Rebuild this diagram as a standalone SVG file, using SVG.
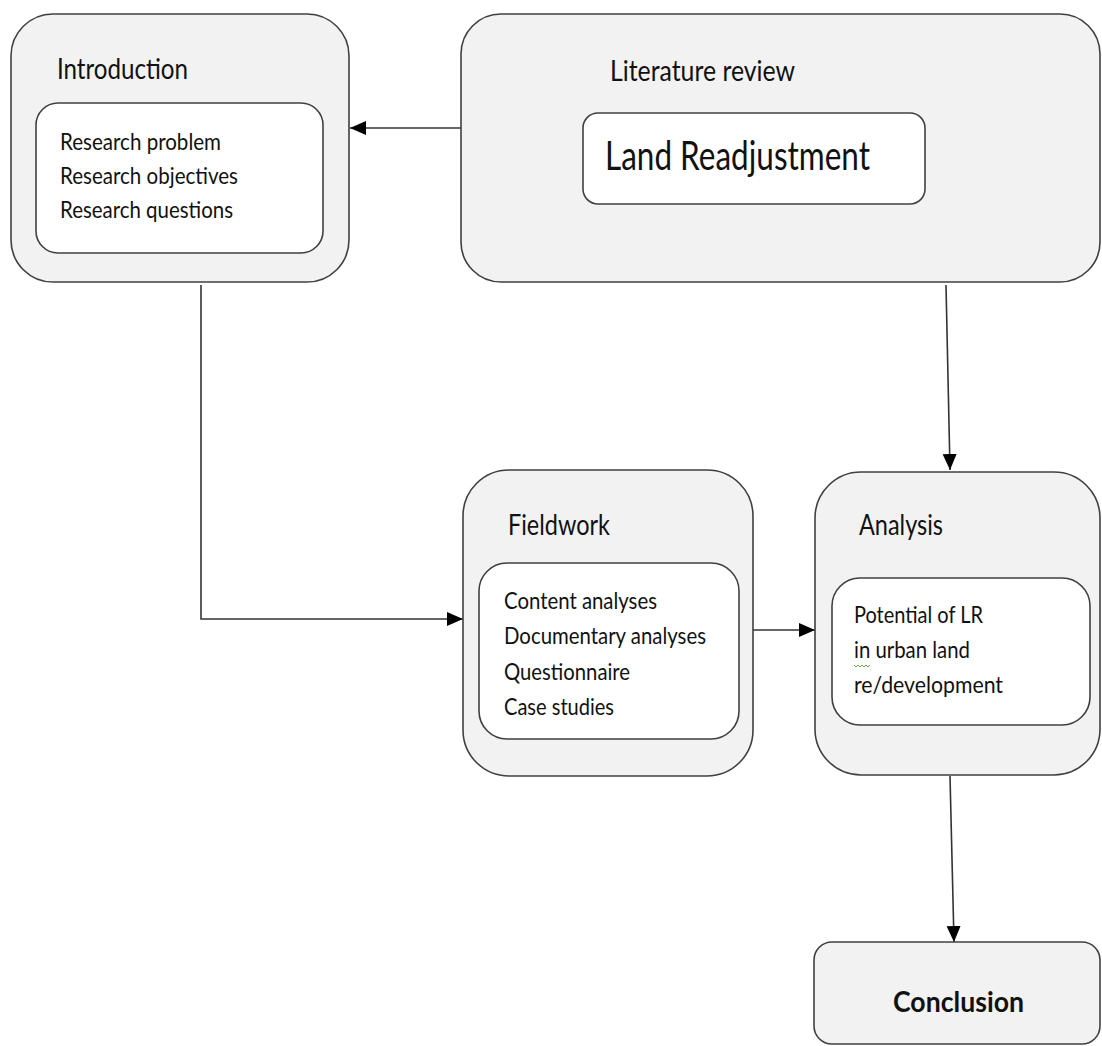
<svg xmlns="http://www.w3.org/2000/svg" width="1102" height="1046" viewBox="0 0 1102 1046">
<style>
.outer{fill:#f2f2f2;stroke:#404040;stroke-width:1.6}
.inner{fill:#ffffff;stroke:#404040;stroke-width:1.6}
text{font-family:Lato,"Liberation Sans",Arial,sans-serif;fill:#111}
.t{font-size:28px}
.s{font-size:23px}
.big{font-size:40px}
.b{font-size:28px;font-weight:bold}
.c{fill:none;stroke:#333;stroke-width:1.6}
</style>
<defs>
<marker id="ah" markerUnits="userSpaceOnUse" markerWidth="17" markerHeight="15" refX="16" refY="7" orient="auto">
<path d="M0,0 L16,7 L0,14 z" fill="#000"/>
</marker>
</defs>
<rect width="1102" height="1046" fill="#fff"/>
<g id="connectors">
<line class="c" x1="461" y1="128" x2="350" y2="128" marker-end="url(#ah)"/>
<polyline class="c" points="201,285 201,619 463,619" marker-end="url(#ah)"/>
<line class="c" x1="753" y1="630" x2="815" y2="630" marker-end="url(#ah)"/>
<line class="c" x1="946" y1="285" x2="950" y2="470" marker-end="url(#ah)"/>
<line class="c" x1="950" y1="776" x2="954" y2="942" marker-end="url(#ah)"/>
</g>
<g id="introduction">
<rect class="outer" x="11" y="14" width="338" height="268" rx="42"/>
<rect class="inner" x="36" y="103" width="287" height="150" rx="22"/>
<text class="t" x="57" y="79" textLength="131" lengthAdjust="spacingAndGlyphs">Introduction</text>
<text class="s" x="60" y="150" textLength="161" lengthAdjust="spacingAndGlyphs">Research problem</text>
<text class="s" x="60" y="184" textLength="178" lengthAdjust="spacingAndGlyphs">Research objectives</text>
<text class="s" x="60" y="218" textLength="173" lengthAdjust="spacingAndGlyphs">Research questions</text>
</g>
<g id="literature-review">
<rect class="outer" x="461" y="14" width="639" height="268" rx="40"/>
<rect class="inner" x="583" y="113" width="342" height="91" rx="15"/>
<text class="t" x="610" y="81" textLength="185" lengthAdjust="spacingAndGlyphs">Literature review</text>
<text class="big" x="605" y="170" textLength="265" lengthAdjust="spacingAndGlyphs">Land Readjustment</text>
</g>
<g id="fieldwork">
<rect class="outer" x="463" y="470" width="290" height="306" rx="46"/>
<rect class="inner" x="479" y="563" width="260" height="176" rx="28"/>
<text class="t" x="508" y="535" textLength="102" lengthAdjust="spacingAndGlyphs">Fieldwork</text>
<text class="s" x="504" y="609" textLength="153" lengthAdjust="spacingAndGlyphs">Content analyses</text>
<text class="s" x="504" y="644" textLength="202" lengthAdjust="spacingAndGlyphs">Documentary analyses</text>
<text class="s" x="504" y="680" textLength="126" lengthAdjust="spacingAndGlyphs">Questionnaire</text>
<text class="s" x="504" y="715" textLength="110" lengthAdjust="spacingAndGlyphs">Case studies</text>
</g>
<g id="analysis">
<rect class="outer" x="815" y="472" width="285" height="303" rx="46"/>
<rect class="inner" x="832" y="578" width="258" height="147" rx="28"/>
<text class="t" x="859" y="535" textLength="84" lengthAdjust="spacingAndGlyphs">Analysis</text>
<text class="s" x="854" y="623" textLength="129" lengthAdjust="spacingAndGlyphs">Potential of LR</text>
<text class="s" x="854" y="658" textLength="116" lengthAdjust="spacingAndGlyphs">in urban land</text>
<text class="s" x="854" y="693" textLength="149" lengthAdjust="spacingAndGlyphs">re/development</text>
<path d="M854,665 l2,2 l2,-2 l2,2 l2,-2 l2,2 l2,-2 l2,2 l2,-2" fill="none" stroke="#6aa84f" stroke-width="1"/>
</g>
<g id="conclusion">
<rect class="outer" x="814" y="942" width="286" height="102" rx="18"/>
<text class="b" x="893" y="1012" textLength="131" lengthAdjust="spacingAndGlyphs">Conclusion</text>
</g>
</svg>
